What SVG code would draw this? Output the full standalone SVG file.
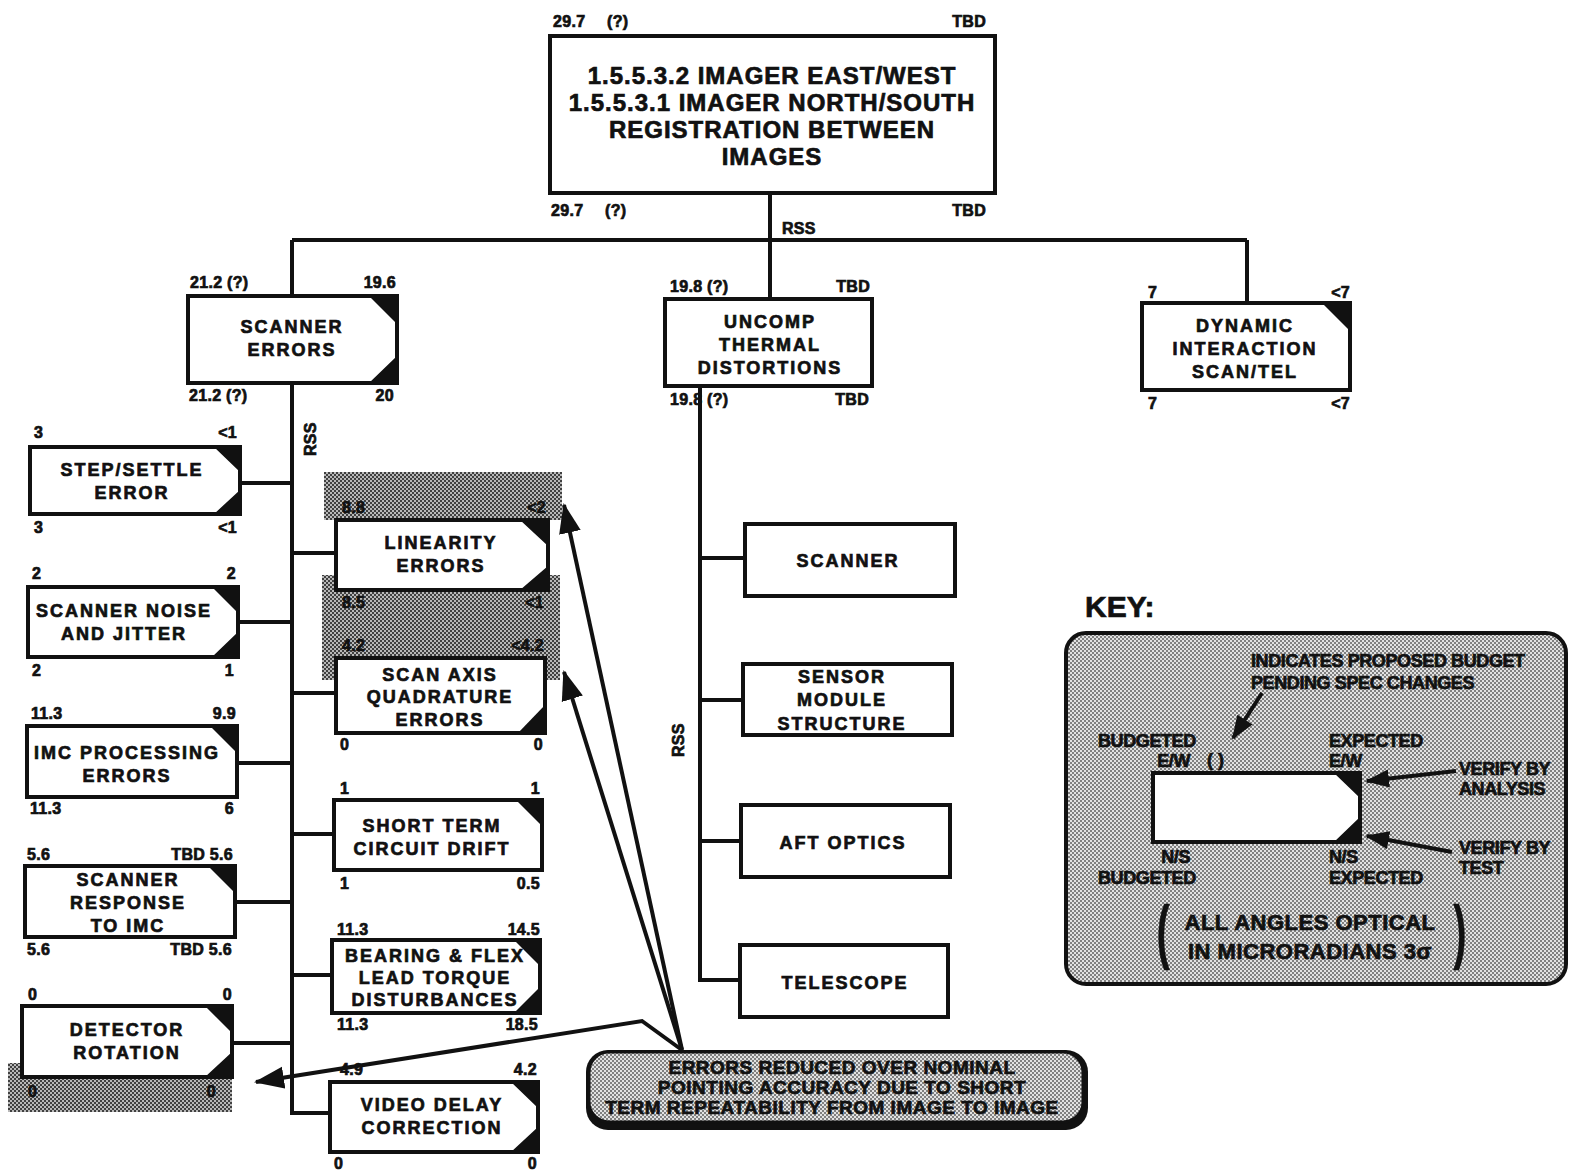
<svg xmlns="http://www.w3.org/2000/svg" width="1570" height="1171" viewBox="0 0 1570 1171">
<defs>
<pattern id="dots" width="4" height="4" patternUnits="userSpaceOnUse"><rect width="4" height="4" fill="#e2e2e2"/><rect width="2" height="2" fill="#808080"/><rect x="2" y="2" width="2" height="2" fill="#808080"/></pattern>
<pattern id="dark" width="4" height="4" patternUnits="userSpaceOnUse"><rect width="4" height="4" fill="#b8b8b8"/><rect width="2" height="2" fill="#404040"/><rect x="2" y="2" width="2" height="2" fill="#404040"/></pattern>
<marker id="ah" markerUnits="userSpaceOnUse" markerWidth="30" markerHeight="24" refX="28" refY="12" orient="auto"><path d="M0,1 L30,12 L0,23 Z" fill="#111"/></marker>
<marker id="ahs" markerUnits="userSpaceOnUse" markerWidth="24" markerHeight="20" refX="22" refY="10" orient="auto"><path d="M0,1 L24,10 L0,19 Z" fill="#111"/></marker>
</defs>
<style>
.box{fill:#fff;stroke:#111;stroke-width:4}
.cn{fill:#111}
.t{font-family:"Liberation Sans",Arial,sans-serif;font-weight:bold;fill:#111;stroke:#111;stroke-width:0.7}
.lb{font-size:18px;text-anchor:middle;letter-spacing:2px}
.n{font-size:16px;letter-spacing:0.3px}
.r{text-anchor:end}
.wire{stroke:#111;stroke-width:4;fill:none}
.arr{stroke:#111;stroke-width:4;fill:none}
.kt{font-size:18px;letter-spacing:-0.4px}
</style>
<rect width="1570" height="1171" fill="#fff"/>

<g id="connectors">
<path class="wire" d="M770,193 V240 M292,240 H1247 M292,240 V296 M770,240 V299 M1247,240 V303"/>
<path class="wire" d="M292,383 V1113 H330"/>
<path class="wire" d="M240,483 H292 M238,622 H292 M237,763 H292 M235,902 H292 M232,1043 H292"/>
<path class="wire" d="M292,553 H336 M292,693 H336 M292,834 H334 M292,975 H332"/>
<path class="wire" d="M700,386 V980 H740 M700,558 H745 M700,700 H743 M700,841 H741"/>
<text class="t n" x="782" y="234">RSS</text>
<text class="t n" transform="translate(316,456) rotate(-90)">RSS</text>
<text class="t n" transform="translate(684,757) rotate(-90)">RSS</text>
</g>

<g id="n-top">
<rect class="box" x="550" y="36" width="445" height="157"/>
<text class="t" font-size="24" letter-spacing="1" text-anchor="middle" x="772" y="84">1.5.5.3.2 IMAGER  EAST/WEST</text>
<text class="t" font-size="24" letter-spacing="1" text-anchor="middle" x="772" y="111">1.5.5.3.1 IMAGER  NORTH/SOUTH</text>
<text class="t" font-size="24" letter-spacing="1" text-anchor="middle" x="772" y="138">REGISTRATION  BETWEEN</text>
<text class="t" font-size="24" letter-spacing="1" text-anchor="middle" x="772" y="165">IMAGES</text>
<text class="t n" x="553" y="27">29.7</text><text class="t n" x="607" y="27">(?)</text><text class="t n r" x="986" y="27">TBD</text>
<text class="t n" x="551" y="216">29.7</text><text class="t n" x="605" y="216">(?)</text><text class="t n r" x="986" y="216">TBD</text>
</g>

<g id="n-scanner-errors">
<rect class="box" x="188" y="296" width="209" height="87"/>
<path class="cn" d="M369,296 H397 V324 Z M397,356 V383 H369 Z"/>
<text class="t lb" x="292" y="333">SCANNER</text><text class="t lb" x="292" y="356">ERRORS</text>
<text class="t n" x="190" y="288">21.2 (?)</text><text class="t n r" x="396" y="288">19.6</text>
<text class="t n" x="189" y="401">21.2 (?)</text><text class="t n r" x="394" y="401">20</text>
</g>

<g id="n-uncomp">
<rect class="box" x="665" y="299" width="207" height="87"/>
<text class="t lb" x="770" y="328">UNCOMP</text><text class="t lb" x="770" y="351">THERMAL</text><text class="t lb" x="770" y="374">DISTORTIONS</text>
<text class="t n" x="670" y="292">19.8 (?)</text><text class="t n r" x="870" y="292">TBD</text>
<text class="t n" x="670" y="405">19.8 (?)</text><text class="t n r" x="869" y="405">TBD</text>
</g>

<g id="n-dynamic">
<rect class="box" x="1142" y="303" width="208" height="87"/>
<path class="cn" d="M1322,303 H1350 V331 Z"/>
<text class="t lb" x="1245" y="332">DYNAMIC</text><text class="t lb" x="1245" y="355">INTERACTION</text><text class="t lb" x="1245" y="378">SCAN/TEL</text>
<text class="t n" x="1148" y="298">7</text><text class="t n r" x="1350" y="298">&lt;7</text>
<text class="t n" x="1148" y="409">7</text><text class="t n r" x="1350" y="409">&lt;7</text>
</g>

<g id="n-step">
<rect class="box" x="30" y="447" width="210" height="67"/>
<path class="cn" d="M214,447 H240 V472 Z M240,490 V514 H214 Z"/>
<text class="t lb" x="132" y="476">STEP/SETTLE</text><text class="t lb" x="132" y="499">ERROR</text>
<text class="t n" x="34" y="438">3</text><text class="t n r" x="237" y="438">&lt;1</text>
<text class="t n" x="34" y="533">3</text><text class="t n r" x="237" y="533">&lt;1</text>
</g>

<g id="n-noise">
<rect class="box" x="28" y="587" width="210" height="70"/>
<path class="cn" d="M212,587 H238 V613 Z M238,632 V657 H212 Z"/>
<text class="t lb" x="124" y="617">SCANNER  NOISE</text><text class="t lb" x="124" y="640">AND  JITTER</text>
<text class="t n" x="32" y="579">2</text><text class="t n r" x="236" y="579">2</text>
<text class="t n" x="32" y="676">2</text><text class="t n r" x="234" y="676">1</text>
</g>

<g id="n-imc">
<rect class="box" x="27" y="726" width="210" height="71"/>
<path class="cn" d="M210,726 H237 V753 Z"/>
<text class="t lb" x="127" y="759">IMC  PROCESSING</text><text class="t lb" x="127" y="782">ERRORS</text>
<text class="t n" x="31" y="719">11.3</text><text class="t n r" x="236" y="719">9.9</text>
<text class="t n" x="30" y="814">11.3</text><text class="t n r" x="234" y="814">6</text>
</g>

<g id="n-response">
<rect class="box" x="25" y="866" width="210" height="71"/>
<path class="cn" d="M208,866 H235 V893 Z"/>
<text class="t lb" x="128" y="886">SCANNER</text><text class="t lb" x="128" y="909">RESPONSE</text><text class="t lb" x="128" y="932">TO IMC</text>
<text class="t n" x="27" y="860">5.6</text><text class="t n r" x="233" y="860">TBD 5.6</text>
<text class="t n" x="27" y="955">5.6</text><text class="t n r" x="232" y="955">TBD 5.6</text>
</g>

<g id="n-detector">
<rect fill="url(#dark)" x="8" y="1063" width="224" height="49"/>
<rect class="box" x="22" y="1006" width="210" height="71"/>
<path class="cn" d="M205,1006 H232 V1033 Z M232,1052 V1077 H205 Z"/>
<text class="t lb" x="127" y="1036">DETECTOR</text><text class="t lb" x="127" y="1059">ROTATION</text>
<text class="t n" x="28" y="1000">0</text><text class="t n r" x="232" y="1000">0</text>
<text class="t n" x="28" y="1097">0</text><text class="t n r" x="216" y="1097">0</text>
</g>

<g id="n-linearity">
<rect fill="url(#dark)" x="324" y="472" width="238" height="48"/>
<rect fill="url(#dark)" x="322" y="575" width="238" height="105"/>
<rect class="box" x="336" y="520" width="212" height="70"/>
<path class="cn" d="M520,520 H548 V546 Z M548,566 V590 H520 Z"/>
<text class="t lb" x="441" y="549">LINEARITY</text><text class="t lb" x="441" y="572">ERRORS</text>
<text class="t n" x="342" y="513">8.8</text><text class="t n r" x="546" y="513">&lt;2</text>
<text class="t n" x="342" y="608">8.5</text><text class="t n r" x="544" y="608">&lt;1</text>
</g>

<g id="n-scanaxis">
<rect class="box" x="336" y="658" width="209" height="75"/>
<path class="cn" d="M545,705 V733 H518 Z"/>
<text class="t lb" x="440" y="681">SCAN AXIS</text><text class="t lb" x="440" y="703">QUADRATURE</text><text class="t lb" x="440" y="726">ERRORS</text>
<text class="t n" x="342" y="651">4.2</text><text class="t n r" x="544" y="651">&lt;4.2</text>
<text class="t n" x="340" y="750">0</text><text class="t n r" x="543" y="750">0</text>
</g>

<g id="n-shortterm">
<rect class="box" x="334" y="800" width="208" height="70"/>
<path class="cn" d="M516,800 H542 V826 Z"/>
<text class="t lb" x="432" y="832">SHORT  TERM</text><text class="t lb" x="432" y="855">CIRCUIT  DRIFT</text>
<text class="t n" x="340" y="794">1</text><text class="t n r" x="540" y="794">1</text>
<text class="t n" x="340" y="889">1</text><text class="t n r" x="540" y="889">0.5</text>
</g>

<g id="n-bearing">
<rect class="box" x="332" y="940" width="208" height="73"/>
<path class="cn" d="M514,940 H540 V966 Z M540,987 V1013 H514 Z"/>
<text class="t lb" x="435" y="962">BEARING &amp; FLEX</text><text class="t lb" x="435" y="984">LEAD  TORQUE</text><text class="t lb" x="435" y="1006">DISTURBANCES</text>
<text class="t n" x="337" y="935">11.3</text><text class="t n r" x="540" y="935">14.5</text>
<text class="t n" x="337" y="1030">11.3</text><text class="t n r" x="538" y="1030">18.5</text>
</g>

<g id="n-video">
<rect class="box" x="330" y="1082" width="208" height="70"/>
<path class="cn" d="M511,1082 H538 V1108 Z M538,1127 V1152 H511 Z"/>
<text class="t lb" x="432" y="1111">VIDEO  DELAY</text><text class="t lb" x="432" y="1134">CORRECTION</text>
<text class="t n" x="340" y="1075">4.9</text><text class="t n r" x="537" y="1075">4.2</text>
<text class="t n" x="334" y="1169">0</text><text class="t n r" x="537" y="1169">0</text>
</g>

<g id="n-scanner">
<rect class="box" x="745" y="524" width="210" height="72"/>
<text class="t lb" x="848" y="567">SCANNER</text>
</g>
<g id="n-sensor">
<rect class="box" x="743" y="664" width="209" height="71"/>
<text class="t lb" x="842" y="683">SENSOR</text><text class="t lb" x="842" y="706">MODULE</text><text class="t lb" x="842" y="730">STRUCTURE</text>
</g>
<g id="n-aft">
<rect class="box" x="741" y="805" width="209" height="72"/>
<text class="t lb" x="843" y="849">AFT  OPTICS</text>
</g>
<g id="n-telescope">
<rect class="box" x="740" y="945" width="208" height="72"/>
<text class="t lb" x="845" y="989">TELESCOPE</text>
</g>

<g id="n-note">
<rect x="586" y="1050" width="502" height="80" rx="22" fill="#111"/>
<rect x="589" y="1052" width="494" height="70" rx="20" fill="url(#dots)" stroke="#111" stroke-width="3"/>
<text class="t" font-size="19" letter-spacing="0.5" text-anchor="middle" x="842" y="1074">ERRORS  REDUCED  OVER  NOMINAL</text>
<text class="t" font-size="19" letter-spacing="0.5" text-anchor="middle" x="842" y="1094">POINTING  ACCURACY  DUE  TO  SHORT</text>
<text class="t" font-size="19" letter-spacing="0.5" text-anchor="middle" x="832" y="1114">TERM  REPEATABILITY  FROM  IMAGE  TO  IMAGE</text>
</g>

<g id="note-arrows">
<path class="arr" marker-end="url(#ah)" d="M682,1050 L564,505"/>
<path class="arr" marker-end="url(#ah)" d="M682,1050 L564,672"/>
<path class="arr" marker-end="url(#ah)" d="M682,1050 L642,1021 L256,1082"/>
</g>

<g id="key">
<text class="t" font-size="30" x="1085" y="617">KEY:</text>
<rect x="1066" y="633" width="500" height="351" rx="20" fill="url(#dots)" stroke="#111" stroke-width="4"/>
<text class="t kt" x="1251" y="667">INDICATES PROPOSED BUDGET</text>
<text class="t kt" x="1251" y="689">PENDING SPEC CHANGES</text>
<path class="arr" stroke-width="4" marker-end="url(#ahs)" d="M1262,693 L1233,738"/>
<text class="t kt" x="1098" y="747">BUDGETED</text>
<text class="t kt r" x="1190" y="767">E/W</text>
<text class="t" font-size="18" x="1207" y="766">(  )</text>
<text class="t kt" x="1329" y="747">EXPECTED</text>
<text class="t kt" x="1329" y="767">E/W</text>
<rect class="box" x="1153" y="773" width="207" height="69"/>
<path class="cn" d="M1334,773 H1360 V798 Z M1360,817 V842 H1334 Z"/>
<path class="arr" marker-end="url(#ahs)" d="M1456,771 L1367,781"/>
<path class="arr" marker-end="url(#ahs)" d="M1452,852 L1367,836"/>
<text class="t kt" x="1459" y="775">VERIFY BY</text>
<text class="t kt" x="1459" y="795">ANALYSIS</text>
<text class="t kt" x="1459" y="854">VERIFY BY</text>
<text class="t kt" x="1459" y="874">TEST</text>
<text class="t kt r" x="1190" y="863">N/S</text>
<text class="t kt" x="1098" y="884">BUDGETED</text>
<text class="t kt" x="1329" y="863">N/S</text>
<text class="t kt" x="1329" y="884">EXPECTED</text>
<text class="t" font-size="70" stroke-width="3" x="1150" y="955" transform="translate(1165,933) scale(0.55,1) translate(-1165,-933)">(</text>
<text class="t" font-size="70" stroke-width="3" x="1450" y="955" transform="translate(1458,933) scale(0.55,1) translate(-1458,-933)">)</text>
<text class="t" font-size="22" text-anchor="middle" x="1310" y="930" letter-spacing="0.5">ALL  ANGLES  OPTICAL</text>
<text class="t" font-size="22" text-anchor="middle" x="1310" y="959" letter-spacing="0.5">IN  MICRORADIANS 3σ</text>
</g>
</svg>
